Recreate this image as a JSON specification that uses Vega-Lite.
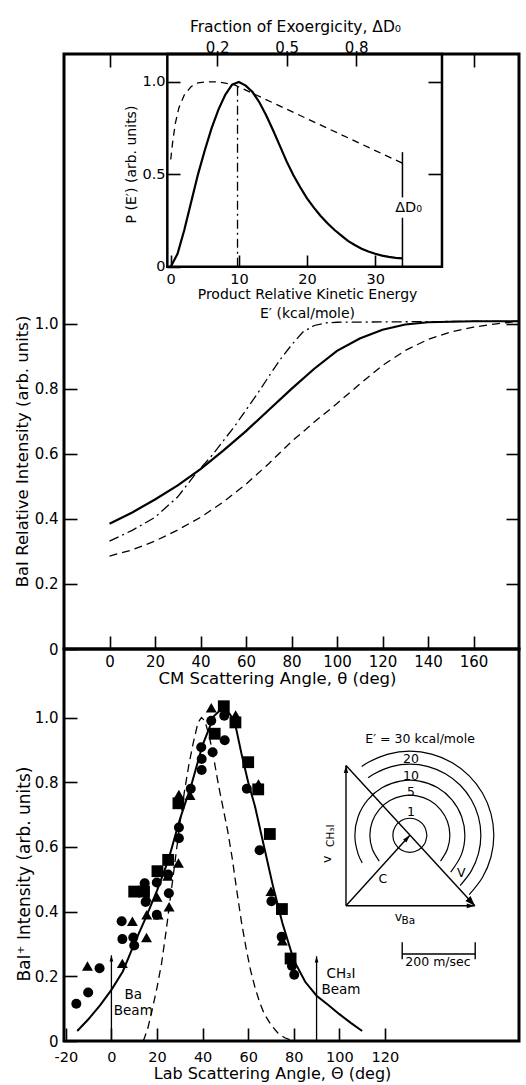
{
  "$schema": "https://vega.github.io/schema/vega-lite/v6.json",
  "padding": {"left": 12, "top": 17, "right": 3, "bottom": 1},
  "config": {
    "font": "DejaVu Sans",
    "view": {"stroke": "black", "strokeWidth": 3},
    "axis": {
      "domain": false, "grid": false, "tickColor": "black", "tickWidth": 1.6,
      "labelColor": "black", "titleColor": "black", "titleFontWeight": "normal",
      "labelFontSize": 15, "titleFontSize": 16.5,
      "labelFlush": false, "labelOverlap": false, "labelBound": false
    },
    "line": {"strokeCap": "butt"}
  },
  "bounds": "flush",
  "spacing": 0,
  "datasets": {
    "cm": [
      {"theta": 0, "I": 0.385, "curve": "solid"}, {"theta": 10, "I": 0.42, "curve": "solid"},
      {"theta": 20, "I": 0.46, "curve": "solid"}, {"theta": 30, "I": 0.503, "curve": "solid"},
      {"theta": 40, "I": 0.553, "curve": "solid"}, {"theta": 50, "I": 0.61, "curve": "solid"},
      {"theta": 60, "I": 0.67, "curve": "solid"}, {"theta": 70, "I": 0.735, "curve": "solid"},
      {"theta": 80, "I": 0.8, "curve": "solid"}, {"theta": 90, "I": 0.862, "curve": "solid"},
      {"theta": 100, "I": 0.917, "curve": "solid"}, {"theta": 110, "I": 0.955, "curve": "solid"},
      {"theta": 120, "I": 0.982, "curve": "solid"}, {"theta": 130, "I": 0.998, "curve": "solid"},
      {"theta": 140, "I": 1.005, "curve": "solid"}, {"theta": 160, "I": 1.008, "curve": "solid"},
      {"theta": 180, "I": 1.008, "curve": "solid"},
      {"theta": 0, "I": 0.332, "curve": "dashdot"}, {"theta": 10, "I": 0.365, "curve": "dashdot"},
      {"theta": 20, "I": 0.405, "curve": "dashdot"}, {"theta": 30, "I": 0.468, "curve": "dashdot"},
      {"theta": 38, "I": 0.54, "curve": "dashdot"}, {"theta": 45, "I": 0.595, "curve": "dashdot"},
      {"theta": 50, "I": 0.64, "curve": "dashdot"}, {"theta": 55, "I": 0.685, "curve": "dashdot"},
      {"theta": 60, "I": 0.735, "curve": "dashdot"}, {"theta": 65, "I": 0.785, "curve": "dashdot"},
      {"theta": 70, "I": 0.838, "curve": "dashdot"}, {"theta": 75, "I": 0.89, "curve": "dashdot"},
      {"theta": 80, "I": 0.935, "curve": "dashdot"}, {"theta": 85, "I": 0.975, "curve": "dashdot"},
      {"theta": 90, "I": 0.995, "curve": "dashdot"}, {"theta": 95, "I": 1.003, "curve": "dashdot"},
      {"theta": 100, "I": 1.005, "curve": "dashdot"}, {"theta": 140, "I": 1.007, "curve": "dashdot"},
      {"theta": 180, "I": 1.008, "curve": "dashdot"},
      {"theta": 0, "I": 0.286, "curve": "dashed"}, {"theta": 10, "I": 0.305, "curve": "dashed"},
      {"theta": 20, "I": 0.332, "curve": "dashed"}, {"theta": 30, "I": 0.366, "curve": "dashed"},
      {"theta": 40, "I": 0.405, "curve": "dashed"}, {"theta": 50, "I": 0.452, "curve": "dashed"},
      {"theta": 60, "I": 0.507, "curve": "dashed"}, {"theta": 70, "I": 0.57, "curve": "dashed"},
      {"theta": 80, "I": 0.638, "curve": "dashed"}, {"theta": 90, "I": 0.698, "curve": "dashed"},
      {"theta": 100, "I": 0.755, "curve": "dashed"}, {"theta": 110, "I": 0.815, "curve": "dashed"},
      {"theta": 120, "I": 0.872, "curve": "dashed"}, {"theta": 130, "I": 0.918, "curve": "dashed"},
      {"theta": 140, "I": 0.952, "curve": "dashed"}, {"theta": 150, "I": 0.975, "curve": "dashed"},
      {"theta": 160, "I": 0.99, "curve": "dashed"}, {"theta": 170, "I": 1.0, "curve": "dashed"},
      {"theta": 180, "I": 1.008, "curve": "dashed"}
    ],
    "pe": [
      {"E": 0, "P": 0, "curve": "solid"}, {"E": 1, "P": 0.07, "curve": "solid"},
      {"E": 2, "P": 0.2, "curve": "solid"}, {"E": 3, "P": 0.35, "curve": "solid"},
      {"E": 4, "P": 0.5, "curve": "solid"}, {"E": 5, "P": 0.63, "curve": "solid"},
      {"E": 6, "P": 0.75, "curve": "solid"}, {"E": 7, "P": 0.85, "curve": "solid"},
      {"E": 8, "P": 0.93, "curve": "solid"}, {"E": 9, "P": 0.985, "curve": "solid"},
      {"E": 10, "P": 1.0, "curve": "solid"}, {"E": 11, "P": 0.98, "curve": "solid"},
      {"E": 12, "P": 0.945, "curve": "solid"}, {"E": 13, "P": 0.89, "curve": "solid"},
      {"E": 14, "P": 0.82, "curve": "solid"}, {"E": 15, "P": 0.74, "curve": "solid"},
      {"E": 16, "P": 0.655, "curve": "solid"}, {"E": 17, "P": 0.57, "curve": "solid"},
      {"E": 18, "P": 0.495, "curve": "solid"}, {"E": 19, "P": 0.43, "curve": "solid"},
      {"E": 20, "P": 0.37, "curve": "solid"}, {"E": 21, "P": 0.32, "curve": "solid"},
      {"E": 22, "P": 0.275, "curve": "solid"}, {"E": 23, "P": 0.235, "curve": "solid"},
      {"E": 24, "P": 0.2, "curve": "solid"}, {"E": 25, "P": 0.17, "curve": "solid"},
      {"E": 26, "P": 0.14, "curve": "solid"}, {"E": 27, "P": 0.118, "curve": "solid"},
      {"E": 28, "P": 0.098, "curve": "solid"}, {"E": 29, "P": 0.082, "curve": "solid"},
      {"E": 30, "P": 0.07, "curve": "solid"}, {"E": 31, "P": 0.06, "curve": "solid"},
      {"E": 32, "P": 0.053, "curve": "solid"}, {"E": 33, "P": 0.048, "curve": "solid"},
      {"E": 34, "P": 0.045, "curve": "solid"},
      {"E": 0, "P": 0.58, "curve": "dashed"}, {"E": 0.3, "P": 0.68, "curve": "dashed"},
      {"E": 0.7, "P": 0.78, "curve": "dashed"}, {"E": 1.2, "P": 0.86, "curve": "dashed"},
      {"E": 2, "P": 0.93, "curve": "dashed"}, {"E": 3, "P": 0.975, "curve": "dashed"},
      {"E": 4, "P": 0.995, "curve": "dashed"}, {"E": 5, "P": 1.0, "curve": "dashed"},
      {"E": 7, "P": 1.0, "curve": "dashed"}, {"E": 9.3, "P": 0.985, "curve": "dashed"},
      {"E": 34, "P": 0.56, "curve": "dashed"}
    ],
    "dd0": [
      {"E": 34, "p0": 0, "p1": 0.265},
      {"E": 34, "p0": 0.375, "p1": 0.62}
    ],
    "lab_fit": [
      {"ang": -15, "I": 0.031, "curve": "solid"}, {"ang": -10, "I": 0.068, "curve": "solid"},
      {"ang": -5, "I": 0.11, "curve": "solid"}, {"ang": 0, "I": 0.158, "curve": "solid"},
      {"ang": 5, "I": 0.215, "curve": "solid"}, {"ang": 10, "I": 0.3, "curve": "solid"},
      {"ang": 15, "I": 0.38, "curve": "solid"}, {"ang": 20, "I": 0.465, "curve": "solid"},
      {"ang": 25, "I": 0.56, "curve": "solid"}, {"ang": 30, "I": 0.685, "curve": "solid"},
      {"ang": 35, "I": 0.79, "curve": "solid"}, {"ang": 40, "I": 0.915, "curve": "solid"},
      {"ang": 45, "I": 1.005, "curve": "solid"}, {"ang": 48, "I": 1.025, "curve": "solid"},
      {"ang": 51, "I": 1.02, "curve": "solid"}, {"ang": 54, "I": 0.99, "curve": "solid"},
      {"ang": 57, "I": 0.89, "curve": "solid"}, {"ang": 60, "I": 0.8, "curve": "solid"},
      {"ang": 63, "I": 0.725, "curve": "solid"}, {"ang": 67, "I": 0.6, "curve": "solid"},
      {"ang": 71, "I": 0.475, "curve": "solid"}, {"ang": 75, "I": 0.365, "curve": "solid"},
      {"ang": 80, "I": 0.25, "curve": "solid"}, {"ang": 85, "I": 0.183, "curve": "solid"},
      {"ang": 90, "I": 0.14, "curve": "solid"}, {"ang": 95, "I": 0.112, "curve": "solid"},
      {"ang": 100, "I": 0.083, "curve": "solid"}, {"ang": 105, "I": 0.056, "curve": "solid"},
      {"ang": 110, "I": 0.031, "curve": "solid"},
      {"ang": 14, "I": 0, "curve": "dashed"}, {"ang": 16, "I": 0.04, "curve": "dashed"},
      {"ang": 18, "I": 0.1, "curve": "dashed"}, {"ang": 20, "I": 0.165, "curve": "dashed"},
      {"ang": 22, "I": 0.24, "curve": "dashed"}, {"ang": 24, "I": 0.34, "curve": "dashed"},
      {"ang": 26, "I": 0.45, "curve": "dashed"}, {"ang": 28, "I": 0.56, "curve": "dashed"},
      {"ang": 30, "I": 0.67, "curve": "dashed"}, {"ang": 32, "I": 0.77, "curve": "dashed"},
      {"ang": 34, "I": 0.855, "curve": "dashed"}, {"ang": 36, "I": 0.925, "curve": "dashed"},
      {"ang": 38, "I": 0.985, "curve": "dashed"}, {"ang": 39.5, "I": 1.0, "curve": "dashed"},
      {"ang": 41, "I": 0.99, "curve": "dashed"}, {"ang": 43, "I": 0.94, "curve": "dashed"},
      {"ang": 45, "I": 0.87, "curve": "dashed"}, {"ang": 47, "I": 0.79, "curve": "dashed"},
      {"ang": 49, "I": 0.72, "curve": "dashed"}, {"ang": 51, "I": 0.65, "curve": "dashed"},
      {"ang": 53, "I": 0.565, "curve": "dashed"}, {"ang": 55, "I": 0.465, "curve": "dashed"},
      {"ang": 57, "I": 0.37, "curve": "dashed"}, {"ang": 59, "I": 0.29, "curve": "dashed"},
      {"ang": 61, "I": 0.22, "curve": "dashed"}, {"ang": 63, "I": 0.165, "curve": "dashed"},
      {"ang": 65, "I": 0.12, "curve": "dashed"}, {"ang": 67, "I": 0.085, "curve": "dashed"},
      {"ang": 70, "I": 0.05, "curve": "dashed"}, {"ang": 73, "I": 0.025, "curve": "dashed"},
      {"ang": 76, "I": 0.01, "curve": "dashed"}, {"ang": 80, "I": 0, "curve": "dashed"}
    ],
    "lab_pts": [
      {"ang": -15.4, "I": 0.115, "s": "circle"}, {"ang": -10.2, "I": 0.15, "s": "circle"},
      {"ang": -5.2, "I": 0.225, "s": "circle"}, {"ang": 4.5, "I": 0.37, "s": "circle"},
      {"ang": 4.8, "I": 0.315, "s": "circle"}, {"ang": 9.6, "I": 0.32, "s": "circle"},
      {"ang": 10, "I": 0.295, "s": "circle"}, {"ang": 14.6, "I": 0.488, "s": "circle"},
      {"ang": 15, "I": 0.43, "s": "circle"}, {"ang": 19.9, "I": 0.49, "s": "circle"},
      {"ang": 19.9, "I": 0.39, "s": "circle"}, {"ang": 24.9, "I": 0.515, "s": "circle"},
      {"ang": 25.2, "I": 0.457, "s": "circle"}, {"ang": 29.6, "I": 0.66, "s": "circle"},
      {"ang": 29.6, "I": 0.627, "s": "circle"}, {"ang": 34.8, "I": 0.78, "s": "circle"},
      {"ang": 39.4, "I": 0.908, "s": "circle"}, {"ang": 39.6, "I": 0.872, "s": "circle"},
      {"ang": 39.6, "I": 0.838, "s": "circle"}, {"ang": 43.8, "I": 0.99, "s": "circle"},
      {"ang": 44.4, "I": 0.893, "s": "circle"}, {"ang": 49.5, "I": 1.006, "s": "circle"},
      {"ang": 49.7, "I": 0.93, "s": "circle"}, {"ang": 59.4, "I": 0.78, "s": "circle"},
      {"ang": 65, "I": 0.59, "s": "circle"}, {"ang": 70.2, "I": 0.432, "s": "circle"},
      {"ang": 74.7, "I": 0.322, "s": "circle"}, {"ang": 79.2, "I": 0.232, "s": "circle"},
      {"ang": 80.2, "I": 0.205, "s": "circle"},
      {"ang": -10.5, "I": 0.232, "s": "triangle"}, {"ang": 4.8, "I": 0.24, "s": "triangle"},
      {"ang": 9.2, "I": 0.37, "s": "triangle"}, {"ang": 15.4, "I": 0.32, "s": "triangle"},
      {"ang": 15.5, "I": 0.39, "s": "triangle"}, {"ang": 15.4, "I": 0.445, "s": "triangle"},
      {"ang": 20, "I": 0.445, "s": "triangle"}, {"ang": 20.5, "I": 0.39, "s": "triangle"},
      {"ang": 25.3, "I": 0.415, "s": "triangle"}, {"ang": 24.7, "I": 0.51, "s": "triangle"},
      {"ang": 29.4, "I": 0.55, "s": "triangle"}, {"ang": 29.6, "I": 0.762, "s": "triangle"},
      {"ang": 34.5, "I": 0.76, "s": "triangle"}, {"ang": 43.8, "I": 1.03, "s": "triangle"},
      {"ang": 54.5, "I": 1.008, "s": "triangle"}, {"ang": 64.5, "I": 0.795, "s": "triangle"},
      {"ang": 70, "I": 0.463, "s": "triangle"}, {"ang": 75, "I": 0.31, "s": "triangle"},
      {"ang": 10, "I": 0.462, "s": "square"}, {"ang": 14.3, "I": 0.462, "s": "square"},
      {"ang": 20.2, "I": 0.525, "s": "square"}, {"ang": 24.9, "I": 0.56, "s": "square"},
      {"ang": 29.4, "I": 0.735, "s": "square"}, {"ang": 45.3, "I": 0.95, "s": "square"},
      {"ang": 49.3, "I": 1.035, "s": "square"}, {"ang": 54.4, "I": 0.985, "s": "square"},
      {"ang": 60, "I": 0.862, "s": "square"}, {"ang": 64.4, "I": 0.778, "s": "square"},
      {"ang": 69.5, "I": 0.64, "s": "square"}, {"ang": 74.8, "I": 0.408, "s": "square"},
      {"ang": 78.6, "I": 0.255, "s": "square"}
    ],
    "beams": [
      {"ang": 0, "base": 0, "top": 0.265, "tx": 9.6, "ty": 0.163, "label": "Ba\nBeam"},
      {"ang": 90, "base": 0, "top": 0.262, "tx": 100.7, "ty": 0.23, "label": "CH₃I\nBeam"}
    ],
    "segs": [
      {"x0": 0, "y0": 0, "x1": 0, "y1": 384, "v": "vCH3I"},
      {"x0": 0, "y0": 0, "x1": 353, "y1": 0, "v": "vBa"},
      {"x0": 0, "y0": 384, "x1": 353, "y1": 0, "v": "V"},
      {"x0": 0, "y0": 0, "x1": 175, "y1": 193, "v": "C"},
      {"x0": 154, "y0": -132, "x1": 354, "y1": -132, "v": "bar"},
      {"x0": 154, "y0": -100, "x1": 154, "y1": -146, "v": "bar"},
      {"x0": 354, "y0": -100, "x1": 354, "y1": -146, "v": "bar"}
    ],
    "arcpts": [
      {"E": 1, "k": 0, "x": 221.6, "y": 193}, {"E": 1, "k": 1, "x": 215.4, "y": 216.3},
      {"E": 1, "k": 2, "x": 198.3, "y": 233.4}, {"E": 1, "k": 3, "x": 175, "y": 239.6},
      {"E": 1, "k": 4, "x": 151.7, "y": 233.4}, {"E": 1, "k": 5, "x": 134.6, "y": 216.3},
      {"E": 1, "k": 6, "x": 128.4, "y": 193}, {"E": 1, "k": 7, "x": 134.6, "y": 169.7},
      {"E": 1, "k": 8, "x": 151.7, "y": 152.6}, {"E": 1, "k": 9, "x": 175, "y": 146.4},
      {"E": 1, "k": 10, "x": 198.3, "y": 152.6}, {"E": 1, "k": 11, "x": 215.4, "y": 169.7},
      {"E": 1, "k": 12, "x": 221.6, "y": 193},
      {"E": 5, "k": 0, "x": 259.0, "y": 122.5}, {"E": 5, "k": 1, "x": 278.0, "y": 155.5},
      {"E": 5, "k": 2, "x": 284.6, "y": 193}, {"E": 5, "k": 3, "x": 278.0, "y": 230.5},
      {"E": 5, "k": 4, "x": 259.0, "y": 263.5}, {"E": 5, "k": 5, "x": 229.8, "y": 287.9},
      {"E": 5, "k": 6, "x": 194.1, "y": 301.0}, {"E": 5, "k": 7, "x": 155.9, "y": 301.0},
      {"E": 5, "k": 8, "x": 120.2, "y": 287.9}, {"E": 5, "k": 9, "x": 91.0, "y": 263.5},
      {"E": 5, "k": 10, "x": 72.0, "y": 230.5}, {"E": 5, "k": 11, "x": 65.4, "y": 193},
      {"E": 5, "k": 12, "x": 72.0, "y": 155.5}, {"E": 5, "k": 13, "x": 91.0, "y": 122.5},
      {"E": 10, "k": 0, "x": 287.0, "y": 92.2}, {"E": 10, "k": 1, "x": 316.7, "y": 141.5},
      {"E": 10, "k": 2, "x": 325.7, "y": 193}, {"E": 10, "k": 3, "x": 316.7, "y": 244.5},
      {"E": 10, "k": 4, "x": 290.4, "y": 289.9}, {"E": 10, "k": 5, "x": 250.4, "y": 323.5},
      {"E": 10, "k": 6, "x": 201.2, "y": 341.4}, {"E": 10, "k": 7, "x": 148.8, "y": 341.4},
      {"E": 10, "k": 8, "x": 99.6, "y": 323.5}, {"E": 10, "k": 9, "x": 59.6, "y": 289.9},
      {"E": 10, "k": 10, "x": 33.3, "y": 244.5}, {"E": 10, "k": 11, "x": 24.3, "y": 193},
      {"E": 10, "k": 12, "x": 33.3, "y": 141.5}, {"E": 10, "k": 13, "x": 44.5, "y": 117.6},
      {"E": 20, "k": 0, "x": 312.5, "y": 55.5}, {"E": 20, "k": 1, "x": 343.4, "y": 95.7},
      {"E": 20, "k": 2, "x": 362.9, "y": 142.7}, {"E": 20, "k": 3, "x": 369.5, "y": 193},
      {"E": 20, "k": 4, "x": 362.9, "y": 243.3}, {"E": 20, "k": 5, "x": 343.4, "y": 290.3},
      {"E": 20, "k": 6, "x": 312.5, "y": 330.5}, {"E": 20, "k": 7, "x": 272.3, "y": 361.4},
      {"E": 20, "k": 8, "x": 225.3, "y": 380.9}, {"E": 20, "k": 9, "x": 175, "y": 387.5},
      {"E": 20, "k": 10, "x": 124.7, "y": 380.9}, {"E": 20, "k": 11, "x": 77.7, "y": 361.4},
      {"E": 20, "k": 12, "x": 60.6, "y": 350.4},
      {"E": 30, "k": 0, "x": 337.6, "y": 30.4}, {"E": 30, "k": 1, "x": 374.2, "y": 78},
      {"E": 30, "k": 2, "x": 397.2, "y": 133.5}, {"E": 30, "k": 3, "x": 405, "y": 193},
      {"E": 30, "k": 4, "x": 397.2, "y": 252.5}, {"E": 30, "k": 5, "x": 374.2, "y": 308},
      {"E": 30, "k": 6, "x": 337.6, "y": 355.6}, {"E": 30, "k": 7, "x": 290, "y": 392.2},
      {"E": 30, "k": 8, "x": 234.5, "y": 415.2}, {"E": 30, "k": 9, "x": 175, "y": 423},
      {"E": 30, "k": 10, "x": 115.5, "y": 415.2}, {"E": 30, "k": 11, "x": 60, "y": 392.2},
      {"E": 30, "k": 12, "x": 43.1, "y": 381.4}
    ],
    "nd_txt": [
      {"x": 203, "y": 457, "t": "E′ = 30 kcal/mole", "k": "a"},
      {"x": 178, "y": 402, "t": "20", "k": "a"},
      {"x": 178, "y": 356, "t": "10", "k": "a"},
      {"x": 178, "y": 312, "t": "5", "k": "a"},
      {"x": 178, "y": 257, "t": "1", "k": "a"},
      {"x": 101, "y": 73, "t": "C", "k": "a"},
      {"x": 316, "y": 91, "t": "V", "k": "a"},
      {"x": 144, "y": -30, "t": "v", "k": "a"},
      {"x": 171, "y": -41, "t": "Ba", "k": "s"},
      {"x": 252, "y": -155, "t": "200 m/sec", "k": "a"},
      {"x": -51, "y": 127, "t": "v", "k": "r"},
      {"x": -41, "y": 192, "t": "CH₃I", "k": "rs"}
    ]
  },
  "vconcat": [
    {
      "width": 455,
      "height": 595,
      "resolve": {"scale": {"x": "independent", "y": "independent"}},
      "layer": [
        {
          "resolve": {"axis": {"x": "independent", "y": "independent"}},
          "layer": [
            {
              "data": {"name": "cm"},
              "transform": [{"filter": "datum.curve == 'solid'"}],
              "mark": {"type": "line", "color": "black", "strokeWidth": 2.2},
              "encoding": {
                "x": {"field": "theta", "type": "quantitative",
                  "scale": {"domain": [-20, 180], "nice": false, "zero": false},
                  "axis": {"orient": "bottom", "values": [0, 20, 40, 60, 80, 100, 120, 140, 160],
                    "tickSize": -13, "labelPadding": 18,
                    "title": "CM Scattering Angle, θ (deg)", "titlePadding": 1.5, "titleX": 213}},
                "y": {"field": "I", "type": "quantitative",
                  "scale": {"domain": [0, 1.83], "nice": false, "zero": false},
                  "axis": {"orient": "left", "values": [0, 0.2, 0.4, 0.6, 0.8, 1.0],
                    "tickSize": -13, "labelPadding": 19,
                    "labelExpr": "datum.value == 0 ? '0' : format(datum.value, '.1f')",
                    "title": "BaI Relative Intensity (arb. units)", "titlePadding": 4, "titleY": 397}}
              }
            },
            {
              "data": {"name": "cm"},
              "transform": [{"filter": "datum.curve == 'dashdot'"}],
              "mark": {"type": "line", "color": "black", "strokeWidth": 1.3, "strokeDash": [10, 4, 2, 4]},
              "encoding": {
                "x": {"field": "theta", "type": "quantitative",
                  "scale": {"domain": [-20, 180], "nice": false, "zero": false},
                  "axis": {"orient": "top", "values": [0, 160], "tickSize": -13, "labels": false, "title": null}},
                "y": {"field": "I", "type": "quantitative",
                  "scale": {"domain": [0, 1.83], "nice": false, "zero": false},
                  "axis": {"orient": "right", "values": [0.2, 0.4, 0.6, 0.8, 1.0], "tickSize": -13, "labels": false, "title": null}}
              }
            },
            {
              "data": {"name": "cm"},
              "transform": [{"filter": "datum.curve == 'dashed'"}],
              "mark": {"type": "line", "color": "black", "strokeWidth": 1.3, "strokeDash": [8, 5]},
              "encoding": {
                "x": {"field": "theta", "type": "quantitative",
                  "scale": {"domain": [-20, 180], "nice": false, "zero": false}, "axis": null},
                "y": {"field": "I", "type": "quantitative",
                  "scale": {"domain": [0, 1.83], "nice": false, "zero": false}, "axis": null}
              }
            }
          ]
        },
        {
          "resolve": {"axis": {"x": "independent", "y": "independent"}},
          "layer": [
            {
              "data": {"values": [{"e0": -0.5, "e1": 39.8, "q0": 0, "q1": 1.151}]},
              "mark": {"type": "rect", "filled": false, "stroke": "black", "strokeWidth": 2.5},
              "encoding": {
                "x": {"field": "e0", "type": "quantitative",
                  "scale": {"domain": [-15.66, 51.1], "nice": false, "zero": false}, "axis": null},
                "x2": {"field": "e1"},
                "y": {"field": "q0", "type": "quantitative",
                  "scale": {"domain": [-2.068, 1.151], "nice": false, "zero": false}, "axis": null},
                "y2": {"field": "q1"}
              }
            },
            {
              "data": {"name": "pe"},
              "transform": [{"filter": "datum.curve == 'solid'"}],
              "mark": {"type": "line", "color": "black", "strokeWidth": 2.2},
              "encoding": {
                "x": {"field": "E", "type": "quantitative",
                  "scale": {"domain": [-15.66, 51.1], "nice": false, "zero": false},
                  "axis": {"orient": "bottom", "offset": -382, "values": [0, 10, 20, 30],
                    "tickSize": -12, "labelPadding": 17.5, "labelFontSize": 14.5,
                    "title": ["Product Relative Kinetic Energy", "E′  (kcal/mole)"],
                    "titleFontSize": 14, "titleLineHeight": 19, "titlePadding": 1.5, "titleX": 243}},
                "y": {"field": "P", "type": "quantitative",
                  "scale": {"domain": [-2.068, 1.151], "nice": false, "zero": false},
                  "axis": {"orient": "left", "offset": -103, "values": [0, 0.5, 1.0],
                    "tickSize": -13, "labelPadding": 15, "labelFontSize": 14.5,
                    "labelExpr": "datum.value == 0 ? '0' : format(datum.value, '.1f')",
                    "title": "P (E′) (arb. units)", "titleFontSize": 14, "titlePadding": 3, "titleY": 110}}
              }
            },
            {
              "data": {"name": "pe"},
              "transform": [{"filter": "datum.curve == 'dashed'"}],
              "mark": {"type": "line", "color": "black", "strokeWidth": 1.3, "strokeDash": [7, 5]},
              "encoding": {
                "x": {"field": "E", "type": "quantitative",
                  "scale": {"domain": [-15.66, 51.1], "nice": false, "zero": false},
                  "axis": {"orient": "top", "values": [6.8, 17, 27.2], "tickSize": -12,
                    "labelPadding": 11, "labelFontSize": 15,
                    "labelExpr": "format(datum.value / 34, '.1f')",
                    "title": "Fraction of Exoergicity, ΔD₀", "titleFontSize": 15.5,
                    "titlePadding": 6, "titleX": 231}},
                "y": {"field": "P", "type": "quantitative",
                  "scale": {"domain": [-2.068, 1.151], "nice": false, "zero": false},
                  "axis": {"orient": "right", "offset": -78, "values": [0.5, 1.0], "tickSize": -13,
                    "labels": false, "title": null}}
              }
            },
            {
              "data": {"values": [{"E": 9.8, "p0": 0, "p1": 0.985}]},
              "mark": {"type": "rule", "color": "black", "strokeWidth": 1.3, "strokeDash": [9, 4, 2, 4]},
              "encoding": {
                "x": {"field": "E", "type": "quantitative",
                  "scale": {"domain": [-15.66, 51.1], "nice": false, "zero": false}, "axis": null},
                "y": {"field": "p0", "type": "quantitative",
                  "scale": {"domain": [-2.068, 1.151], "nice": false, "zero": false}, "axis": null},
                "y2": {"field": "p1"}
              }
            },
            {
              "data": {"name": "dd0"},
              "mark": {"type": "rule", "color": "black", "strokeWidth": 1.5},
              "encoding": {
                "x": {"field": "E", "type": "quantitative",
                  "scale": {"domain": [-15.66, 51.1], "nice": false, "zero": false}, "axis": null},
                "y": {"field": "p0", "type": "quantitative",
                  "scale": {"domain": [-2.068, 1.151], "nice": false, "zero": false}, "axis": null},
                "y2": {"field": "p1"}
              }
            },
            {
              "data": {"values": [{"E": 34.9, "P": 0.32, "t": "ΔD₀"}]},
              "mark": {"type": "text", "fontSize": 14.5, "color": "black", "align": "center", "baseline": "middle"},
              "encoding": {
                "x": {"field": "E", "type": "quantitative",
                  "scale": {"domain": [-15.66, 51.1], "nice": false, "zero": false}, "axis": null},
                "y": {"field": "P", "type": "quantitative",
                  "scale": {"domain": [-2.068, 1.151], "nice": false, "zero": false}, "axis": null},
                "text": {"field": "t"}
              }
            }
          ]
        }
      ]
    },
    {
      "width": 455,
      "height": 392,
      "resolve": {"scale": {"x": "independent", "y": "independent"}},
      "layer": [
        {
          "layer": [
            {
              "data": {"name": "lab_fit"},
              "transform": [{"filter": "datum.curve == 'solid'"}],
              "mark": {"type": "line", "color": "black", "strokeWidth": 2},
              "encoding": {
                "x": {"field": "ang", "type": "quantitative",
                  "scale": {"domain": [-20.8, 178.8], "nice": false, "zero": false},
                  "axis": {"orient": "bottom", "values": [-20, 0, 20, 40, 60, 80, 100, 120],
                    "tickSize": -13, "labelPadding": 22, "labelFontSize": 14.5,
                    "labelExpr": "replace(datum.label, '−', '-')",
                    "title": "Lab Scattering Angle, Θ (deg)", "titleFontSize": 16,
                    "titlePadding": 2, "titleX": 208}},
                "y": {"field": "I", "type": "quantitative",
                  "scale": {"domain": [0, 1.212], "nice": false, "zero": false},
                  "axis": {"orient": "left", "values": [0, 0.2, 0.4, 0.6, 0.8, 1.0],
                    "tickSize": -13, "labelPadding": 19,
                    "labelExpr": "datum.value == 0 ? '0' : format(datum.value, '.1f')",
                    "title": "BaI⁺ Intensity (arb. units)", "titleFontSize": 17,
                    "titlePadding": 1, "titleY": 224.5}}
              }
            },
            {
              "data": {"name": "lab_fit"},
              "transform": [{"filter": "datum.curve == 'dashed'"}],
              "mark": {"type": "line", "color": "black", "strokeWidth": 1.3, "strokeDash": [8, 5]},
              "encoding": {
                "x": {"field": "ang", "type": "quantitative",
                  "scale": {"domain": [-20.8, 178.8], "nice": false, "zero": false}},
                "y": {"field": "I", "type": "quantitative",
                  "scale": {"domain": [0, 1.212], "nice": false, "zero": false}}
              }
            },
            {
              "data": {"name": "lab_pts"},
              "mark": {"type": "point", "filled": true, "color": "black", "opacity": 1},
              "encoding": {
                "x": {"field": "ang", "type": "quantitative",
                  "scale": {"domain": [-20.8, 178.8], "nice": false, "zero": false}},
                "y": {"field": "I", "type": "quantitative",
                  "scale": {"domain": [0, 1.212], "nice": false, "zero": false}},
                "shape": {"field": "s", "type": "nominal",
                  "scale": {"domain": ["circle", "triangle", "square"], "range": ["circle", "triangle-up", "square"]},
                  "legend": null},
                "size": {"field": "s", "type": "nominal",
                  "scale": {"domain": ["circle", "triangle", "square"], "range": [100, 140, 110]},
                  "legend": null}
              }
            },
            {
              "data": {"name": "beams"},
              "mark": {"type": "rule", "color": "black", "strokeWidth": 1.3},
              "encoding": {
                "x": {"field": "ang", "type": "quantitative",
                  "scale": {"domain": [-20.8, 178.8], "nice": false, "zero": false}},
                "y": {"field": "base", "type": "quantitative",
                  "scale": {"domain": [0, 1.212], "nice": false, "zero": false}},
                "y2": {"field": "top"}
              }
            },
            {
              "data": {"name": "beams"},
              "mark": {"type": "point", "filled": true, "color": "black", "opacity": 1,
                "shape": "M0,0L-0.5,1.7L0.5,1.7Z", "size": 55},
              "encoding": {
                "x": {"field": "ang", "type": "quantitative",
                  "scale": {"domain": [-20.8, 178.8], "nice": false, "zero": false}},
                "y": {"field": "top", "type": "quantitative",
                  "scale": {"domain": [0, 1.212], "nice": false, "zero": false}}
              }
            },
            {
              "data": {"name": "beams"},
              "mark": {"type": "text", "color": "black", "fontSize": 13.5, "align": "center",
                "baseline": "top", "lineBreak": "\n", "lineHeight": 16},
              "encoding": {
                "x": {"field": "tx", "type": "quantitative",
                  "scale": {"domain": [-20.8, 178.8], "nice": false, "zero": false}},
                "y": {"field": "ty", "type": "quantitative",
                  "scale": {"domain": [0, 1.212], "nice": false, "zero": false}},
                "text": {"field": "label"}
              }
            }
          ]
        },
        {
          "layer": [
            {
              "data": {"name": "segs"},
              "mark": {"type": "rule", "color": "black", "strokeWidth": 1.4},
              "encoding": {
                "x": {"field": "x0", "type": "quantitative",
                  "scale": {"domain": [-772.6, 474], "nice": false, "zero": false}, "axis": null},
                "x2": {"field": "x1"},
                "y": {"field": "y0", "type": "quantitative",
                  "scale": {"domain": [-369.9, 702.7], "nice": false, "zero": false}, "axis": null},
                "y2": {"field": "y1"}
              }
            },
            {
              "data": {"name": "segs"},
              "transform": [{"filter": "datum.v == 'vCH3I'"}],
              "mark": {"type": "point", "filled": true, "color": "black", "opacity": 1,
                "shape": "M0,0L-0.5,1.7L0.5,1.7Z", "size": 80, "angle": 0},
              "encoding": {
                "x": {"field": "x1", "type": "quantitative",
                  "scale": {"domain": [-772.6, 474], "nice": false, "zero": false}, "axis": null},
                "y": {"field": "y1", "type": "quantitative",
                  "scale": {"domain": [-369.9, 702.7], "nice": false, "zero": false}, "axis": null}
              }
            },
            {
              "data": {"name": "segs"},
              "transform": [{"filter": "datum.v == 'C'"}],
              "mark": {"type": "point", "filled": true, "color": "black", "opacity": 1,
                "shape": "M0,0L-0.5,1.7L0.5,1.7Z", "size": 80, "angle": 42},
              "encoding": {
                "x": {"field": "x1", "type": "quantitative",
                  "scale": {"domain": [-772.6, 474], "nice": false, "zero": false}, "axis": null},
                "y": {"field": "y1", "type": "quantitative",
                  "scale": {"domain": [-369.9, 702.7], "nice": false, "zero": false}, "axis": null}
              }
            },
            {
              "data": {"name": "segs"},
              "transform": [{"filter": "datum.v == 'V'"}],
              "mark": {"type": "point", "filled": true, "color": "black", "opacity": 1,
                "shape": "M0,0L-0.6,1.7L0.6,1.7Z", "size": 140, "angle": 137},
              "encoding": {
                "x": {"field": "x1", "type": "quantitative",
                  "scale": {"domain": [-772.6, 474], "nice": false, "zero": false}, "axis": null},
                "y": {"field": "y1", "type": "quantitative",
                  "scale": {"domain": [-369.9, 702.7], "nice": false, "zero": false}, "axis": null}
              }
            },
            {
              "data": {"name": "segs"},
              "transform": [{"filter": "datum.v == 'vBa'"}],
              "mark": {"type": "point", "filled": true, "color": "black", "opacity": 1,
                "shape": "M0,0L-0.5,1.7L0.5,1.7Z", "size": 90, "angle": 90},
              "encoding": {
                "x": {"field": "x1", "type": "quantitative",
                  "scale": {"domain": [-772.6, 474], "nice": false, "zero": false}, "axis": null},
                "y": {"field": "y1", "type": "quantitative",
                  "scale": {"domain": [-369.9, 702.7], "nice": false, "zero": false}, "axis": null}
              }
            },
            {
              "data": {"name": "arcpts"},
              "mark": {"type": "line", "color": "black", "strokeWidth": 1.2, "interpolate": "catmull-rom"},
              "encoding": {
                "x": {"field": "x", "type": "quantitative",
                  "scale": {"domain": [-772.6, 474], "nice": false, "zero": false}, "axis": null},
                "y": {"field": "y", "type": "quantitative",
                  "scale": {"domain": [-369.9, 702.7], "nice": false, "zero": false}, "axis": null},
                "detail": {"field": "E", "type": "nominal"},
                "order": {"field": "k", "type": "quantitative"}
              }
            },
            {
              "data": {"name": "nd_txt"},
              "transform": [{"filter": "datum.k == 'a'"}],
              "mark": {"type": "text", "color": "black", "fontSize": 12.5, "align": "center", "baseline": "middle"},
              "encoding": {
                "x": {"field": "x", "type": "quantitative",
                  "scale": {"domain": [-772.6, 474], "nice": false, "zero": false}, "axis": null},
                "y": {"field": "y", "type": "quantitative",
                  "scale": {"domain": [-369.9, 702.7], "nice": false, "zero": false}, "axis": null},
                "text": {"field": "t"}
              }
            },
            {
              "data": {"name": "nd_txt"},
              "transform": [{"filter": "datum.k == 's'"}],
              "mark": {"type": "text", "color": "black", "fontSize": 10.5, "align": "center", "baseline": "middle"},
              "encoding": {
                "x": {"field": "x", "type": "quantitative",
                  "scale": {"domain": [-772.6, 474], "nice": false, "zero": false}, "axis": null},
                "y": {"field": "y", "type": "quantitative",
                  "scale": {"domain": [-369.9, 702.7], "nice": false, "zero": false}, "axis": null},
                "text": {"field": "t"}
              }
            },
            {
              "data": {"name": "nd_txt"},
              "transform": [{"filter": "datum.k == 'r'"}],
              "mark": {"type": "text", "color": "black", "fontSize": 12.5, "align": "center", "baseline": "middle", "angle": 270},
              "encoding": {
                "x": {"field": "x", "type": "quantitative",
                  "scale": {"domain": [-772.6, 474], "nice": false, "zero": false}, "axis": null},
                "y": {"field": "y", "type": "quantitative",
                  "scale": {"domain": [-369.9, 702.7], "nice": false, "zero": false}, "axis": null},
                "text": {"field": "t"}
              }
            },
            {
              "data": {"name": "nd_txt"},
              "transform": [{"filter": "datum.k == 'rs'"}],
              "mark": {"type": "text", "color": "black", "fontSize": 10.5, "align": "center", "baseline": "middle", "angle": 270},
              "encoding": {
                "x": {"field": "x", "type": "quantitative",
                  "scale": {"domain": [-772.6, 474], "nice": false, "zero": false}, "axis": null},
                "y": {"field": "y", "type": "quantitative",
                  "scale": {"domain": [-369.9, 702.7], "nice": false, "zero": false}, "axis": null},
                "text": {"field": "t"}
              }
            }
          ]
        }
      ]
    }
  ]
}
